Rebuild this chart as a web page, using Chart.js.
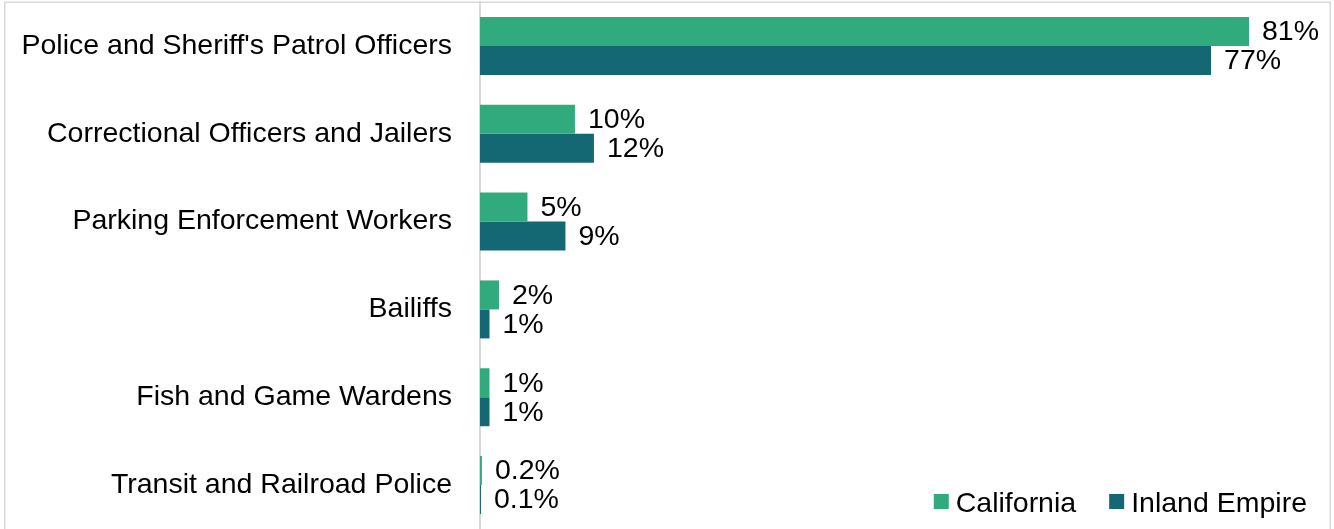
<!DOCTYPE html>
<html>
<head>
<meta charset="utf-8">
<script src="https://cdn.jsdelivr.net/npm/chart.js@4/dist/chart.umd.min.js"></script>
<style>
  html, body { margin: 0; padding: 0; background: #ffffff; }
  #wrap { position: relative; width: 1334px; height: 529px; }
</style>
</head>
<body>
<div id="wrap"><canvas id="chart"></canvas></div>
<script>
// Occupations and share of workers in each region (percent)
const occupations = [
  "Police and Sheriff's Patrol Officers",
  "Correctional Officers and Jailers",
  "Parking Enforcement Workers",
  "Bailiffs",
  "Fish and Game Wardens",
  "Transit and Railroad Police"
];
const californiaShare = [81, 10, 5, 2, 1, 0.2];
const inlandEmpireShare = [77, 12, 9, 1, 1, 0.1];
const seriesNames = ["California", "Inland Empire"];

const FONT = "'Liberation Sans', Arial, Helvetica, sans-serif";
const FONT_SIZE = 28.5;
const GREEN = '#31ab7d';
const TEAL = '#136874';

function pctLabel(v) {
  return (v < 1 ? v.toFixed(1) : String(v)) + '%';
}

// Light frame around the whole chart
const framePlugin = {
  id: 'frame',
  beforeDraw(chart) {
    const ctx = chart.ctx;
    ctx.save();
    ctx.strokeStyle = '#d9d9d9';
    ctx.lineWidth = 1.5;
    ctx.strokeRect(4.75, 2.25, 1325.5, 600);
    ctx.restore();
  }
};

// Value labels just past the end of each bar
const valueLabels = {
  id: 'valueLabels',
  afterDatasetsDraw(chart) {
    const ctx = chart.ctx;
    ctx.save();
    ctx.font = FONT_SIZE + 'px ' + FONT;
    ctx.fillStyle = '#000000';
    ctx.textAlign = 'left';
    ctx.textBaseline = 'middle';
    chart.data.datasets.forEach((ds, i) => {
      const meta = chart.getDatasetMeta(i);
      meta.data.forEach((bar, j) => {
        ctx.fillText(pctLabel(ds.data[j]), bar.x + 13, bar.y + 1);
      });
    });
    ctx.restore();
  }
};

// Legend sitting in the lower-right corner of the plot
const cornerLegend = {
  id: 'cornerLegend',
  afterDraw(chart) {
    const ctx = chart.ctx;
    ctx.save();
    ctx.font = FONT_SIZE + 'px ' + FONT;
    ctx.textAlign = 'left';
    ctx.textBaseline = 'alphabetic';
    const baseline = 512;
    const box = 15;
    let x = 1307;
    const items = chart.data.datasets.slice().reverse();
    items.forEach((ds) => {
      const w = ctx.measureText(ds.label).width;
      const textX = x - w;
      ctx.fillStyle = '#000000';
      ctx.fillText(ds.label, textX, baseline);
      const boxX = textX - 7 - box;
      ctx.fillStyle = ds.backgroundColor;
      ctx.fillRect(boxX, baseline - 18, box, box);
      x = boxX - 33;
    });
    ctx.restore();
  }
};

new Chart(document.getElementById('chart'), {
  type: 'bar',
  data: {
    labels: occupations,
    datasets: [
      { label: seriesNames[0], data: californiaShare, backgroundColor: GREEN },
      { label: seriesNames[1], data: inlandEmpireShare, backgroundColor: TEAL }
    ]
  },
  options: {
    indexAxis: 'y',
    responsive: true,
    maintainAspectRatio: false,
    animation: false,
    categoryPercentage: 0.66,
    barPercentage: 1.0,
    layout: { padding: { top: 2, right: 47, bottom: 0, left: 0 } },
    plugins: {
      legend: { display: false },
      tooltip: { enabled: false }
    },
    scales: {
      x: { display: false, min: 0, max: 85 },
      y: {
        grid: { display: false, drawTicks: false },
        border: { display: true, color: '#d9d9d9', width: 2 },
        ticks: {
          padding: 28,
          color: '#000000',
          font: { size: FONT_SIZE, family: FONT }
        },
        afterFit(scale) {
          // fixed gutter for the category names, bands run the full height
          scale.width = 480;
          scale.paddingTop = 0;
          scale.paddingBottom = 0;
        }
      }
    }
  },
  plugins: [framePlugin, valueLabels, cornerLegend]
});
</script>
</body>
</html>
